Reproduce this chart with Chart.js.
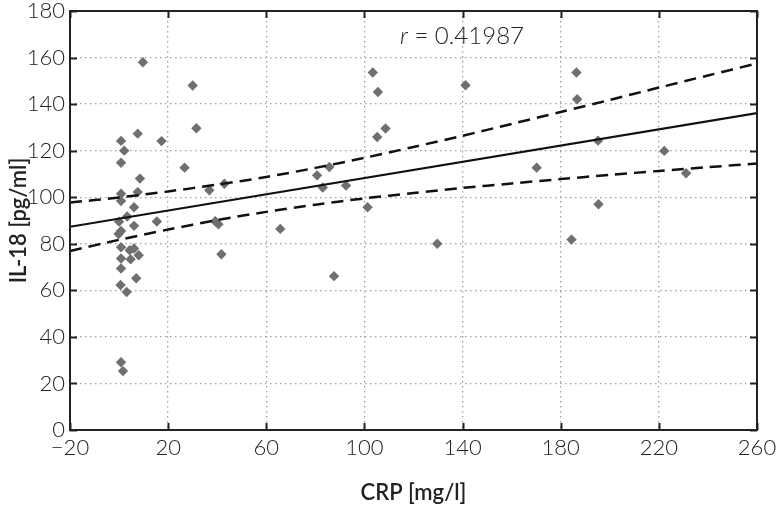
<!DOCTYPE html>
<html>
<head>
<meta charset="utf-8">
<script src="https://cdn.jsdelivr.net/npm/chart.js@4/dist/chart.umd.min.js"></script>
<style>
  html, body { margin: 0; padding: 0; background: #fff; }
  #wrap { width: 783px; height: 506px; position: relative; }
</style>
</head>
<body>
<div id="wrap"><canvas id="c" width="783" height="506"></canvas></div>
<script>
// ---- data ----
const crpValues = [9.7, 30, 7.6, 0.8, 2.1, 17.3, 31.5, 0.8, 26.7, 8.5, 0.8, 7.6, 0.8, 6.1, 36.8, 42.9,
  3.3, 0.0, 6.1, 0.8, -0.2, 15.4, 0.8, 4.3, 6.1, 8.0, 0.8, 4.7, 0.8, 7.0, 0.6, 3.1, 0.8, 1.6,
  39.2, 40.5, 41.7, 103.4, 105.5, 141.2, 105.2, 108.6, 80.7, 85.7, 83.0, 92.5, 101.3, 65.7, 129.7, 87.6,
  186.4, 186.7, 195.2, 222.2, 170.2, 231.1, 195.4, 184.4];
const il18Values = [158, 148, 127.3, 124.2, 120, 124.1, 129.6, 114.8, 112.7, 108, 101.5, 102.2, 98.4, 95.7, 103, 105.8,
  91.7, 89.5, 87.7, 85.5, 84.2, 89.6, 78.5, 77.2, 78.0, 75.1, 73.7, 73.3, 69.4, 65.2, 62.3, 59.3, 29.1, 25.3,
  89.7, 88.4, 75.5, 153.6, 145.2, 148.1, 125.9, 129.5, 109.4, 113.0, 104.2, 105.0, 95.7, 86.4, 80.0, 66.1,
  153.6, 142.1, 124.3, 119.9, 112.7, 110.3, 97.0, 81.8];
const fitX = [-20, 260];
const fitY = [87.3, 136.1];
const bandX = [-20, 0, 20, 40, 60, 80, 100, 120, 140, 160, 180, 200, 220, 240, 260];
const upperBand = [97.7, 99.9, 102.5, 105.4, 108.7, 112.6, 116.9, 121.6, 126.4, 131.5, 136.6, 141.8, 147.1, 152.3, 157.5];
const lowerBand = [76.9, 81.7, 86.1, 90.2, 93.7, 96.8, 99.5, 101.8, 104.0, 105.9, 107.8, 109.6, 111.3, 112.9, 114.5];
const xTicks = [-20, 20, 60, 100, 140, 180, 220, 260];
const yTicks = [0, 20, 40, 60, 80, 100, 120, 140, 160, 180];
const rLabel = 'r';
const rValueText = ' = 0.41987';
const xTitle = 'CRP [mg/l]';
const yTitle = 'IL-18 [pg/ml]';

const FONT = "Lato, 'Open Sans', 'Noto Sans', sans-serif";

const scatterPts = crpValues.map((x, i) => ({ x: x, y: il18Values[i] }));
const fitPts = fitX.map((x, i) => ({ x: x, y: fitY[i] }));
const upPts = bandX.map((x, i) => ({ x: x, y: upperBand[i] }));
const loPts = bandX.map((x, i) => ({ x: x, y: lowerBand[i] }));

const framePlugin = {
  id: 'frame',
  afterDatasetsDraw(chart) {
    const { ctx, chartArea: a, scales } = chart;
    ctx.save();
    ctx.strokeStyle = '#222';
    ctx.lineWidth = 2;
    ctx.strokeRect(a.left, a.top, a.right - a.left, a.bottom - a.top);
    const tl = 7;
    ctx.beginPath();
    xTicks.forEach(v => {
      const px = Math.round(scales.x.getPixelForValue(v)) + 0.5;
      ctx.moveTo(px, a.bottom); ctx.lineTo(px, a.bottom - tl);
      ctx.moveTo(px, a.top); ctx.lineTo(px, a.top + tl);
    });
    yTicks.forEach(v => {
      const py = Math.round(scales.y.getPixelForValue(v)) + 0.5;
      ctx.moveTo(a.left, py); ctx.lineTo(a.left + tl, py);
      ctx.moveTo(a.right, py); ctx.lineTo(a.right - tl, py);
    });
    ctx.stroke();
    // correlation annotation
    const tx = scales.x.getPixelForValue(114.5);
    const ty = scales.y.getPixelForValue(169);
    ctx.fillStyle = '#222';
    ctx.textBaseline = 'middle';
    ctx.textAlign = 'left';
    ctx.font = "italic 300 24px " + FONT;
    ctx.fillText(rLabel, tx, ty);
    const w = ctx.measureText(rLabel).width;
    ctx.font = "300 24px " + FONT;
    ctx.fillText(rValueText, tx + w, ty);
    ctx.restore();
  }
};

new Chart(document.getElementById('c'), {
  type: 'scatter',
  data: {
    datasets: [
      { label: 'upper', data: upPts, showLine: true, borderColor: '#111', borderWidth: 2.5,
        borderDash: [12, 7], pointRadius: 0, fill: false, tension: 0.3 },
      { label: 'lower', data: loPts, showLine: true, borderColor: '#111', borderWidth: 2.5,
        borderDash: [12, 7], pointRadius: 0, fill: false, tension: 0.3 },
      { label: 'fit', data: fitPts, showLine: true, borderColor: '#111', borderWidth: 2.2,
        pointRadius: 0, fill: false },
      { label: 'data', data: scatterPts, pointStyle: 'rectRot', pointRadius: 5.2,
        backgroundColor: '#6f6f6f', borderColor: '#6f6f6f', borderWidth: 0 }
    ]
  },
  options: {
    responsive: false,
    animation: false,
    devicePixelRatio: 1,
    layout: { padding: { top: 11, right: 26, left: 0, bottom: 0 } },
    plugins: { legend: { display: false }, tooltip: { enabled: false } },
    scales: {
      x: {
        type: 'linear', min: -20, max: 260,
        afterBuildTicks: s => { s.ticks = xTicks.map(v => ({ value: v })); },
        afterFit: s => { s.height = 76; s.paddingLeft = 0; s.paddingRight = 0; },
        grid: { color: '#a0a0a0', lineWidth: 1.3, borderDash: [1.5, 3.5], drawTicks: false },
        border: { display: false, dash: [1.5, 3.5] },
        ticks: {
          padding: 5, color: '#222', font: { family: FONT, size: 22, weight: '300' },
          maxRotation: 0,
          callback: v => String(v).replace('-', '\u2212')
        },
        title: { display: true, text: xTitle, color: '#222', padding: { top: 6, bottom: 0 },
          font: { family: FONT, size: 22, weight: '600' } }
      },
      y: {
        type: 'linear', min: 0, max: 180,
        afterBuildTicks: s => { s.ticks = yTicks.map(v => ({ value: v })); },
        afterFit: s => { s.width = 70; s.paddingTop = 0; s.paddingBottom = 0; },
        grid: { color: '#a0a0a0', lineWidth: 1.3, borderDash: [1.5, 3.5], drawTicks: false },
        border: { display: false, dash: [1.5, 3.5] },
        ticks: {
          padding: 5, color: '#222', font: { family: FONT, size: 22, weight: '300' }
        },
        title: { display: true, text: yTitle, color: '#222', padding: { top: 6, bottom: 0 },
          font: { family: FONT, size: 22, weight: '600' } }
      }
    }
  },
  plugins: [framePlugin]
});
</script>
</body>
</html>
